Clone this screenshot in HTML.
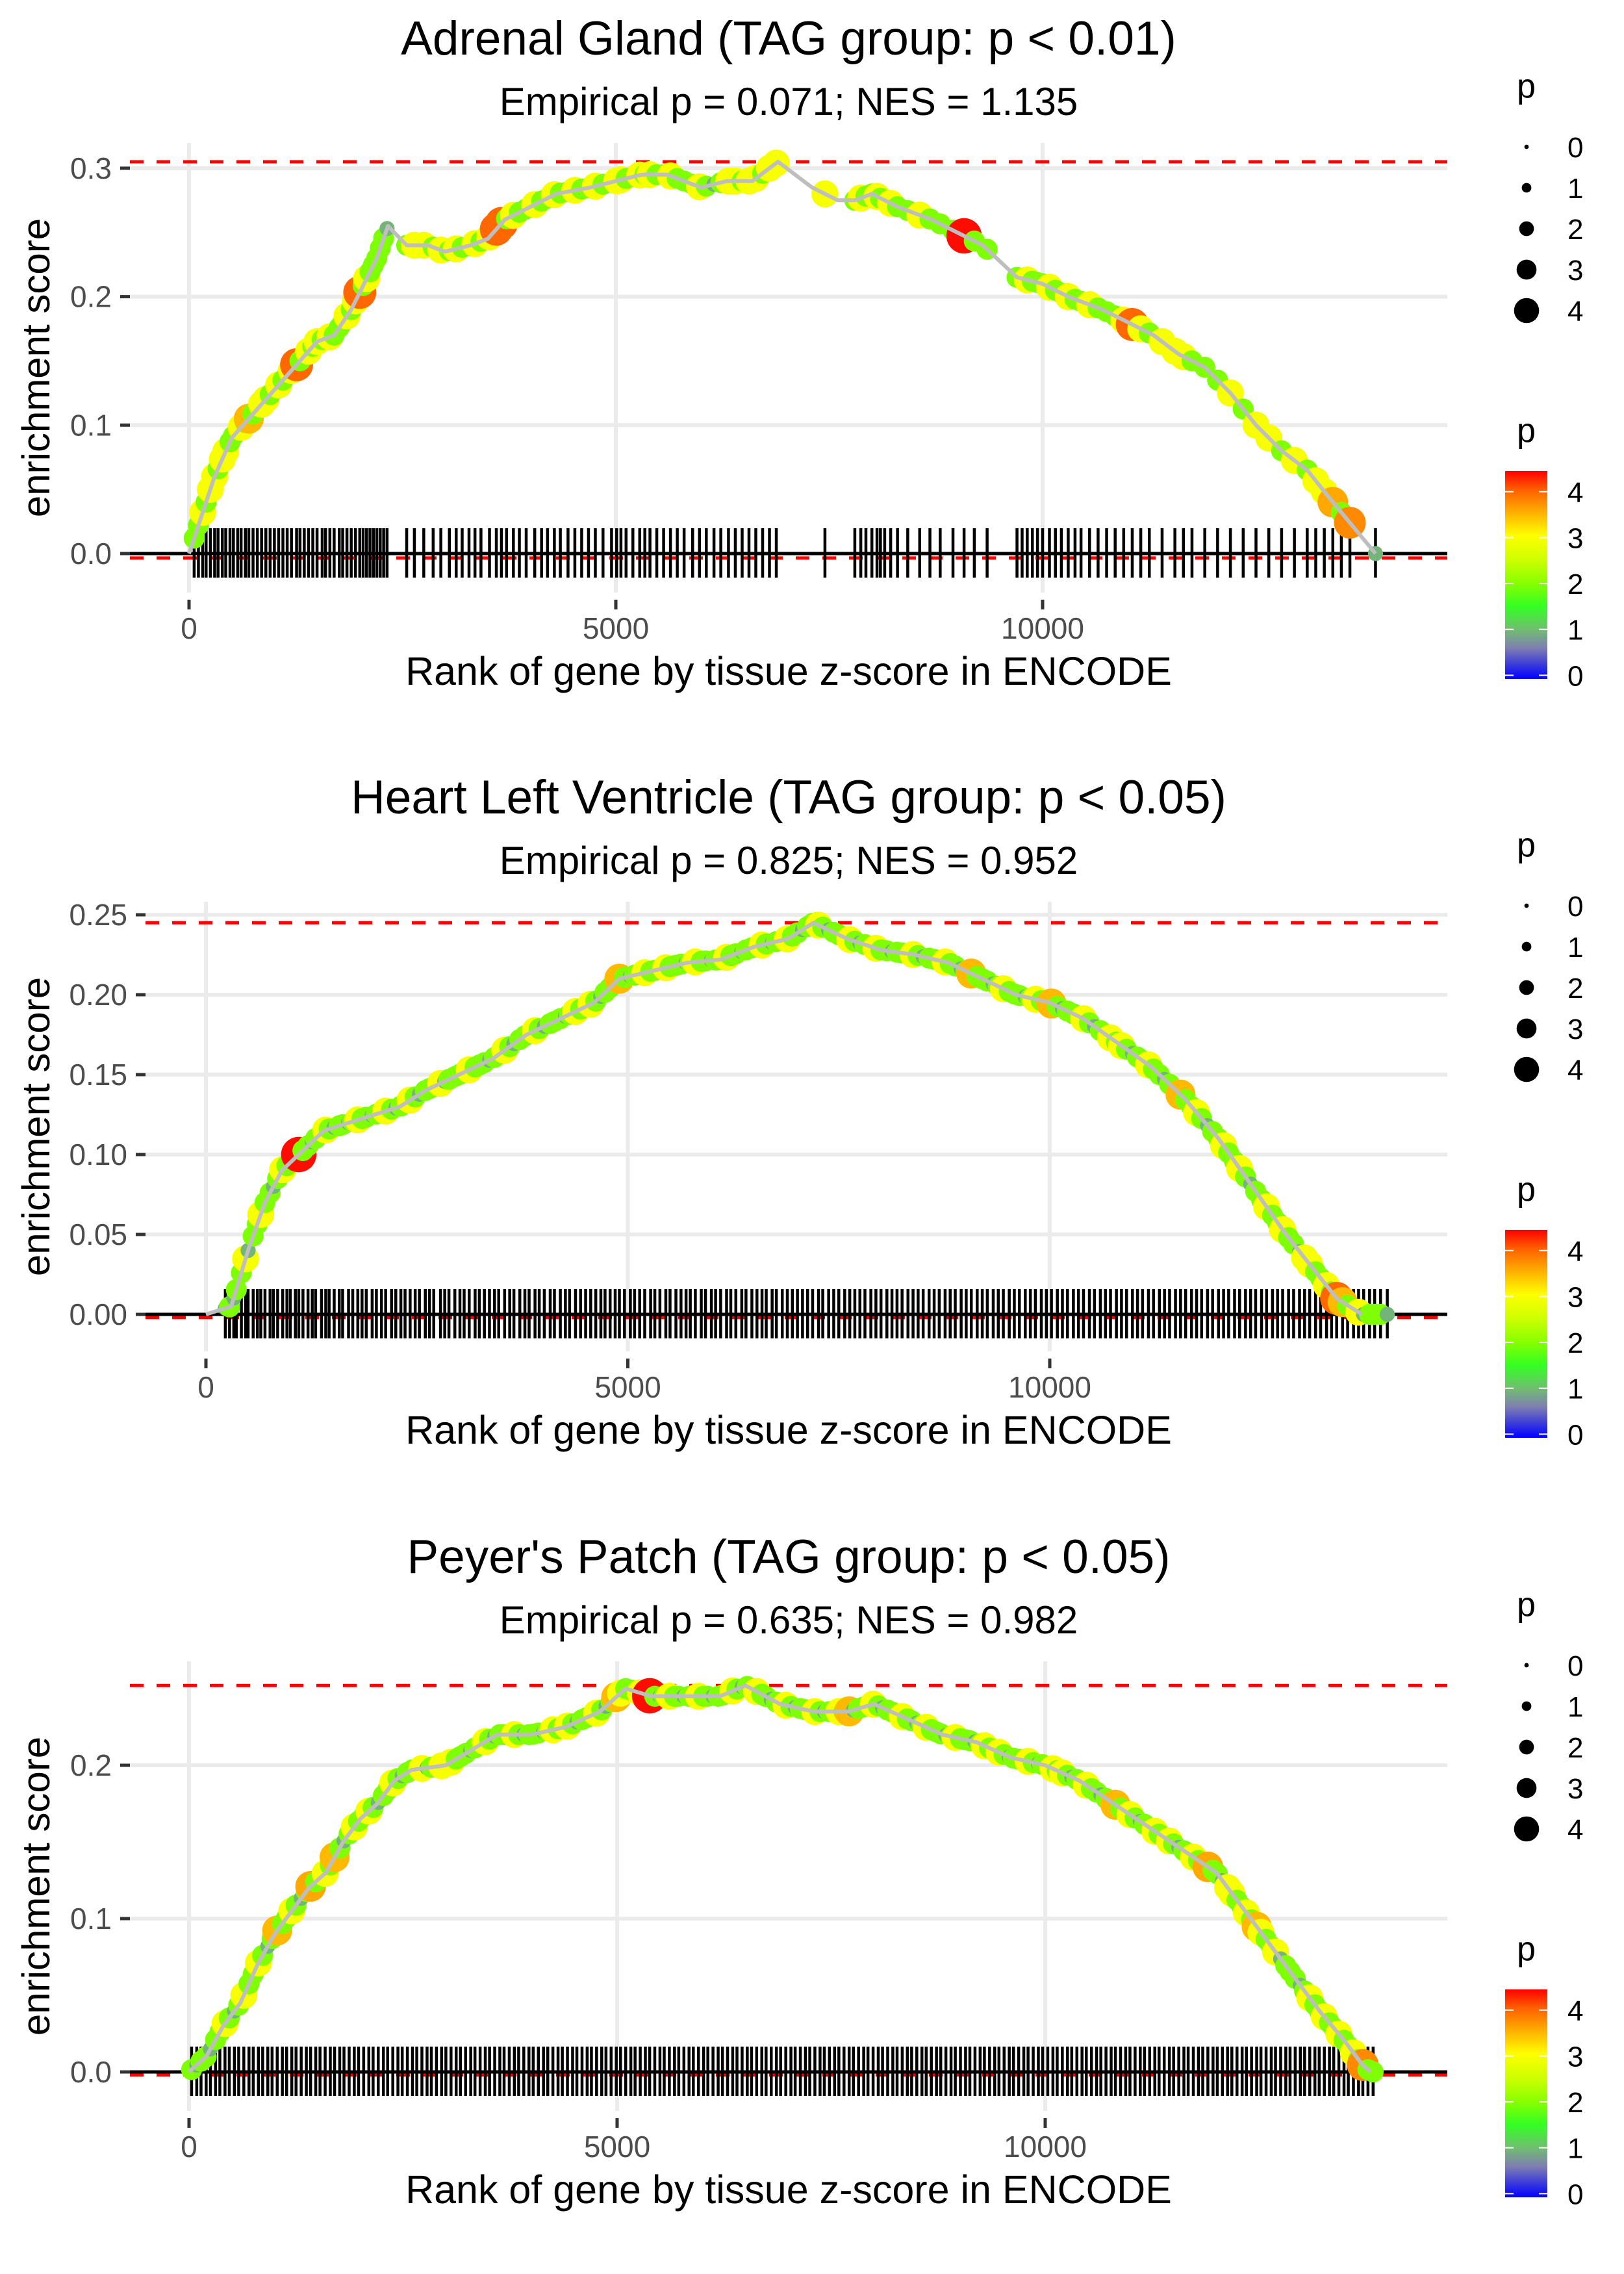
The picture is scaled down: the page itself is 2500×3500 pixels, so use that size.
<!DOCTYPE html>
<html><head><meta charset="utf-8">
<style>
html,body{margin:0;padding:0;background:#fff;}
svg{display:block;font-family:"Liberation Sans",Arial,sans-serif;}
</style></head>
<body>
<svg id="chart" width="2500" height="3500" viewBox="0 0 2500 3500" xmlns="http://www.w3.org/2000/svg">
<defs>
<linearGradient id="pgrad" x1="0" y1="1" x2="0" y2="0">
<stop offset="0" stop-color="#0000ff"/>
<stop offset="0.15" stop-color="#7f7fb0"/>
<stop offset="0.24" stop-color="#6fbf6f"/>
<stop offset="0.35" stop-color="#33ff22"/>
<stop offset="0.46" stop-color="#88ff00"/>
<stop offset="0.57" stop-color="#ccff00"/>
<stop offset="0.69" stop-color="#ffff00"/>
<stop offset="0.80" stop-color="#ffb000"/>
<stop offset="0.91" stop-color="#ff6000"/>
<stop offset="1" stop-color="#ff0000"/>
</linearGradient>
</defs>
</svg>
<script>
// ---------- Panel 1: Adrenal Gland ----------
const p1CurveRank = [0,150,300,500,700,900,1100,1300,1500,1700,1900,2050,2200,2330,2550,2800,3000,3300,3500,3700,4000,4300,4700,5000,5300,5600,6000,6300,6600,6900,7300,7600,7800,8000,8300,8700,9000,9300,9700,10000,10300,10700,11000,11300,11600,11900,12200,12500,12800,13100,13400,13650,13900];
const p1CurveES = [0,0.03,0.06,0.09,0.105,0.12,0.135,0.15,0.165,0.17,0.19,0.21,0.23,0.255,0.24,0.24,0.235,0.24,0.245,0.26,0.27,0.28,0.285,0.29,0.295,0.295,0.285,0.29,0.29,0.305,0.285,0.275,0.275,0.28,0.27,0.26,0.25,0.24,0.215,0.21,0.2,0.19,0.18,0.17,0.155,0.145,0.125,0.1,0.08,0.065,0.04,0.02,0.0];
const p1Hits = [60,110,160,200,250,300,340,390,430,480,520,570,610,660,700,750,800,850,900,950,1000,1050,1100,1150,1200,1260,1300,1350,1400,1450,1500,1560,1600,1650,1700,1760,1800,1850,1900,1950,2000,2040,2080,2120,2160,2200,2240,2280,2320,
2550,2640,2750,2860,2950,3050,3130,3200,3280,3350,3420,3520,3600,3660,3720,3800,3870,3950,4050,4130,4200,4280,4350,4440,4520,4600,4680,4760,4850,
4950,5010,5060,5120,5200,5280,5340,5400,5480,5560,5640,5720,5800,5900,5980,6060,6150,6230,6320,6400,6480,6560,6640,6720,6800,6880,
7450,7800,7870,7930,8000,8060,8100,8150,8220,8300,8420,8560,8680,8800,8950,9080,9200,9350,
9700,9760,9820,9880,9940,10000,10080,10150,10220,10300,10380,10450,10550,10650,10750,10850,10950,11050,11150,11250,11400,11550,11650,11750,11900,12050,12200,12350,12500,12650,12800,12950,13100,13200,13300,13400,13500,13600,13900];
const p1P = [2,2,3,2,3,3,2,3,3,2, 2,2,3,2,3.5,2,2,3,3,2, 2,3,2,2,3,4,2,2,3,2, 3,2,2,3,2,2,2,3,2,3, 4,2,3,2,2,2,2,2,1,
2,3,3,2,3,2,3,2,2,3, 2,3,4,4,2,3,2,2,3,2, 2,3,2,2,3,2,2,3,2,
2,3,3,2,2,3,2,3,2,2, 3,2,2,2,3,2,1,2,3,3, 2,3,3,2,3,3,
3,2,3,2,2,3,2,2,3,2, 2,3,2,2,2,4.4,2,2,
2,2,3,2,2,2,3,2,2,3, 2,2,3,2,2,2,3,4,3,2, 3,3,3,2,2,2,3,2,3,3, 2,3,2,3,3,3.6,2,3.8,1];
const p1Ticks = [0.0,0.1,0.2,0.3];
const p1TickLabels = ["0.0","0.1","0.2","0.3"];
const p1Max = 0.305, p1Min = -0.0035;

// ---------- Panel 2: Heart Left Ventricle ----------
const p2CurveRank = [0,300,500,700,900,1100,1400,1700,2000,2300,2600,3000,3400,3800,4200,4600,4900,5300,5700,6100,6500,6900,7200,7600,8000,8400,8800,9200,9600,10000,10400,10800,11200,11600,12000,12400,12800,13100,13400,13700];
const p2CurveES = [0,0.005,0.04,0.07,0.09,0.1,0.115,0.12,0.125,0.13,0.14,0.15,0.16,0.175,0.185,0.195,0.21,0.215,0.22,0.222,0.23,0.235,0.245,0.235,0.228,0.225,0.22,0.21,0.2,0.195,0.185,0.17,0.155,0.135,0.11,0.08,0.05,0.03,0.01,0.0];
const p2Hits = [230,280,330,360,420,470,500,560,610,650,700,760,800,850,910,960,1000,1060,1100,1150,
1210,1260,1300,1370,1420,1460,1520,1580,1620,1690,1740,1800,1850,1900,1970,2020,2080,2130,2200,2250,
2310,2360,2420,2480,2530,2600,2650,2700,2780,2830,2880,2950,3010,3060,3120,3190,3240,3300,3360,3420,
3470,3540,3600,3650,3720,3780,3830,3900,3950,4010,4080,4130,4200,4260,4310,4380,4440,4500,4560,4620,
4680,4730,4790,4850,4900,4960,5030,5080,5140,5200,5270,5320,5380,5450,5500,5570,5630,5690,5740,5800,
5870,5920,5990,6040,6100,6170,6220,6280,6350,6400,6470,6530,6590,6640,6710,6760,6830,6890,6950,7010,
7070,7130,7190,7260,7310,7380,7440,7500,7570,7630,7690,7750,7810,7880,7940,8000,8070,8130,8190,8250,
8320,8380,8440,8500,8570,8630,8690,8760,8820,8880,8950,9010,9070,9140,9200,9260,9330,9390,9450,9520,
9580,9640,9710,9770,9830,9900,9960,10020,10090,10150,10210,10280,10340,10400,10470,10530,10600,10660,10720,10790,
10850,10910,10980,11040,11100,11170,11230,11300,11360,11420,11490,11550,11610,11680,11740,11800,11870,11930,12000,12060,
12120,12190,12250,12320,12380,12440,12510,12570,12640,12700,12760,12830,12890,12960,13020,13080,13150,13210,13280,13340,
13400,13470,13530,13600,13660,13720,13790,13850,13920,14000];
const p2P = [1,2,1,2,2,3,1,2,2,3,2,2,1,2,3,2,2,1,4.4,2,
2,1,2,2,3,2,1,2,2,1,2,3,2,2,1,2,2,3,2,1,
2,2,3,2,1,2,2,2,3,1,2,2,2,1,3,2,2,2,1,2,
2,3,2,1,2,2,2,3,2,1,2,2,2,1,2,3,2,2,3,2,
1,2,2,2,3.5,2,1,2,2,3,2,2,1,3,2,2,2,1,2,3,
2,2,1,2,2,3,2,2,1,2,2,2,3,2,1,2,2,3,2,2,
1,2,2,3,2,1,2,2,2,3,2,1,2,2,3,2,2,1,2,2,
2,3,2,1,2,2,2,3,2,2,1,2,3.5,2,2,2,1,2,3,2,
2,2,1,2,3,2,2,3.5,2,1,2,2,2,3,2,1,2,2,3,2,
3,2,1,2,2,3,2,2,1,2,2,3.5,2,2,3,2,1,2,2,3,
2,2,3,2,1,2,2,3,2,2,3,2,2,1,3,3,2,2,3,2,
4,3.5,2,2,3,1,2,2,2,1];
const p2Ticks = [0,0.05,0.10,0.15,0.20,0.25];
const p2TickLabels = ["0.00","0.05","0.10","0.15","0.20","0.25"];
const p2Max = 0.245, p2Min = -0.002;

// ---------- Panel 3: Peyer's Patch ----------
const p3CurveRank = [0,200,400,600,800,1000,1200,1400,1600,1800,2000,2200,2400,2600,3000,3300,3600,4000,4400,4800,5100,5400,5800,6200,6500,6900,7300,7700,8000,8400,8800,9200,9600,10000,10400,10800,11200,11600,12000,12400,12800,13200,13500,13700,13800];
const p3CurveES = [0,0.01,0.03,0.045,0.07,0.09,0.105,0.12,0.13,0.15,0.165,0.175,0.19,0.197,0.2,0.21,0.22,0.22,0.225,0.235,0.25,0.245,0.245,0.245,0.252,0.24,0.235,0.235,0.24,0.23,0.22,0.215,0.205,0.2,0.19,0.175,0.16,0.145,0.13,0.1,0.07,0.04,0.02,0.005,0.0];
const p3Hits = [30,90,140,200,250,310,360,420,470,530,580,640,700,750,810,860,920,970,1030,1090,
1140,1200,1250,1310,1370,1420,1480,1530,1590,1650,1700,1760,1810,1870,1930,1980,2040,2100,2150,2210,
2270,2320,2380,2440,2490,2550,2610,2660,2720,2780,2830,2890,2950,3000,3060,3120,3170,3230,3290,3340,
3400,3460,3510,3570,3630,3680,3740,3800,3850,3910,3970,4020,4080,4140,4190,4250,4310,4360,4420,4480,
4530,4590,4650,4700,4760,4820,4870,4930,4990,5040,5100,5160,5210,5270,5330,5380,5440,5500,5550,5610,
5670,5720,5780,5840,5890,5950,6010,6060,6120,6180,6230,6290,6350,6400,6460,6520,6570,6630,6690,6740,
6800,6860,6910,6970,7030,7080,7140,7200,7250,7310,7370,7420,7480,7540,7590,7650,7710,7760,7820,7880,
7930,7990,8050,8100,8160,8220,8270,8330,8390,8440,8500,8560,8610,8670,8730,8780,8840,8900,8950,9010,
9070,9120,9180,9240,9290,9350,9410,9460,9520,9580,9630,9690,9750,9800,9860,9920,9970,10030,10090,10140,
10200,10260,10310,10370,10430,10480,10540,10600,10650,10710,10770,10820,10880,10940,10990,11050,11110,11160,11220,11280,
11330,11390,11450,11500,11560,11620,11670,11730,11790,11840,11900,11960,12010,12070,12130,12180,12240,12300,12350,12410,
12470,12520,12580,12640,12690,12750,12810,12860,12920,12980,13030,13090,13150,13200,13260,13320,13370,13430,13490,13540,
13600,13660,13710,13770,13830];
const p3P = [2,1,2,2,1,2,2,3,2,1,2,3,2,2,3,2,1,2,3.5,2,
2,3,2,1,2,3.6,2,2,3,2,3.5,2,1,2,3,2,2,3,2,1,
2,2,3,2,1,2,2,2,3,1,2,2,3,1,3,2,2,2,1,2,
2,3,2,1,2,2,2,3,2,1,2,2,2,1,2,3,2,2,3,2,
1,2,2,2,3,2,1,2,3.5,3,2,2,1,3,2,4.4,2,1,2,3,
2,2,1,2,2,3,2,2,1,2,2,2,3,2,1,2,2,3,2,2,
1,2,2,3,2,1,2,2,2,3,2,1,2,2,3,2,3.5,1,2,2,
2,3,2,1,2,2,2,3,2,2,1,2,3,2,2,2,1,2,3,2,
2,2,1,2,3,2,2,3,2,1,2,2,2,3,2,1,2,2,3,2,
3,2,1,2,2,3,2,2,1,2,2,3.5,2,2,3,2,1,2,2,3,
2,2,3,2,1,2,2,3,2,2,3.6,2,2,1,3,3,2,2,3,2,
3.5,3,2,2,3,1,2,2,2,1,2,3,2,2,3,2,2,3,2,2,
3,2,3.8,2,2];
const p3Ticks = [0.0,0.1,0.2];
const p3TickLabels = ["0.0","0.1","0.2"];
const p3Max = 0.252, p3Min = -0.002;

const xTicks = [0,5000,10000];
const xTickLabels = ["0","5000","10000"];
const legendSizes = [0,1,2,3,4];
const legendColors = [0,1,2,3,4];

const panels = [
 {name:"adrenal-gland", title:"Adrenal Gland (TAG group: p < 0.01)", sub:"Empirical p = 0.071; NES = 1.135",
  cr:p1CurveRank, ce:p1CurveES, hits:p1Hits, p:p1P, ticks:p1Ticks, tl:p1TickLabels, max:p1Max, min:p1Min,
  off:0, left:200, x0:291, xk:0.1314, y0:852, yk:1977},
 {name:"heart-left-ventricle", title:"Heart Left Ventricle (TAG group: p < 0.05)", sub:"Empirical p = 0.825; NES = 0.952",
  cr:p2CurveRank, ce:p2CurveES, hits:p2Hits, p:p2P, ticks:p2Ticks, tl:p2TickLabels, max:p2Max, min:p2Min,
  off:1168, left:224, x0:317, xk:0.1299, y0:2023, yk:2460},
 {name:"peyers-patch", title:"Peyer's Patch (TAG group: p < 0.05)", sub:"Empirical p = 0.635; NES = 0.982",
  cr:p3CurveRank, ce:p3CurveES, hits:p3Hits, p:p3P, ticks:p3Ticks, tl:p3TickLabels, max:p3Max, min:p3Min,
  off:2337, left:200, x0:291, xk:0.1318, y0:3189, yk:2360}
];

const NS = "http://www.w3.org/2000/svg";
const svg = document.getElementById('chart');
function mk(tag, attrs, parent, text){
  const e = document.createElementNS(NS, tag);
  for (const k in attrs) e.setAttribute(k, attrs[k]);
  if (text !== undefined) e.textContent = text;
  (parent||svg).appendChild(e);
  return e;
}
const stops = [[0,[0,0,255]],[0.67,[127,127,176]],[1.07,[111,191,111]],[1.56,[51,255,34]],[2.05,[136,255,0]],[2.54,[204,255,0]],[3.07,[255,255,0]],[3.56,[255,176,0]],[4.05,[255,96,0]],[4.45,[255,0,0]]];
function pColor(v){
  if (v<=stops[0][0]) return 'rgb(0,0,255)';
  for (let i=1;i<stops.length;i++){
    if (v<=stops[i][0]){
      const a=stops[i-1], b=stops[i], t=(v-a[0])/(b[0]-a[0]);
      const c=a[1].map((q,j)=>Math.round(q+(b[1][j]-q)*t));
      return 'rgb('+c.join(',')+')';
    }
  }
  return 'rgb(255,0,0)';
}
function pRadius(v){ return 3.5 + 4.1*v; }
function ptRadius(v){ return 7 + 4.6*v; }
function interp(xs, ys, x){
  if (x<=xs[0]) return ys[0];
  for (let i=1;i<xs.length;i++) if (x<=xs[i]){ const t=(x-xs[i-1])/(xs[i]-xs[i-1]); return ys[i-1]+(ys[i]-ys[i-1])*t; }
  return ys[ys.length-1];
}

panels.forEach(P=>{
  const g = mk('g',{});
  
  
  const top=220+P.off, bottom=912+P.off, L=P.left, R=2228;
  const X = r => P.x0 + P.xk*r;
  const Y = v => P.y0 - P.yk*v;
  const t = mk('text',{x:1214,y:84+P.off,'text-anchor':'middle','font-size':73,fill:'#000'},g,P.title);
  
  
  const s = mk('text',{x:1214,y:177+P.off,'text-anchor':'middle','font-size':60,fill:'#000'},g,P.sub);
  
  
  P.ticks.forEach((v,i)=>{
    const gl = mk('line',{x1:L,x2:R,y1:Y(v),y2:Y(v),stroke:'#ebebeb','stroke-width':6},g);
    
    
    mk('line',{x1:L-15,x2:L,y1:Y(v),y2:Y(v),stroke:'#333','stroke-width':5},g);
    const tl = mk('text',{x:L-28,y:Y(v)+16,'text-anchor':'end','font-size':46,fill:'#4d4d4d'},g,P.tl[i]);
    
    
  });
  xTicks.forEach((v,i)=>{
    const gl = mk('line',{x1:X(v),x2:X(v),y1:top,y2:bottom,stroke:'#ebebeb','stroke-width':6},g);
    
    
    mk('line',{x1:X(v),x2:X(v),y1:bottom+11,y2:bottom+26,stroke:'#333','stroke-width':5},g);
    const tl = mk('text',{x:X(v),y:983+P.off,'text-anchor':'middle','font-size':46,fill:'#4d4d4d'},g,xTickLabels[i]);
    
    
  });
  const xl = mk('text',{x:1214,y:1054+P.off,'text-anchor':'middle','font-size':61,fill:'#000'},g,'Rank of gene by tissue z-score in ENCODE');
  
  
  const yy = (top+bottom)/2;
  const yl = mk('text',{x:0,y:0,'text-anchor':'middle','font-size':60,fill:'#000',transform:'translate(76,'+yy+') rotate(-90)'},g,'enrichment score');
  
  
  [P.max,P.min].forEach(v=>{
    const d = mk('line',{x1:L,x2:R,y1:Y(v),y2:Y(v),stroke:'#ff0000','stroke-width':5,'stroke-dasharray':'21 20'},g);
    
    
  });
  P.hits.forEach(r=>{
    const rl = mk('line',{x1:X(r),x2:X(r),y1:Y(0)-39,y2:Y(0)+37,stroke:'#000','stroke-width':4.5},g);
    
    
  });
  const z = mk('line',{x1:L,x2:R,y1:Y(0),y2:Y(0),stroke:'#000','stroke-width':5},g);
  
  
  P.hits.forEach((r,i)=>{
    const pv = P.p[i]===undefined ? 2 : P.p[i];
    const c = mk('circle',{cx:X(r),cy:Y(interp(P.cr,P.ce,r)),r:ptRadius(pv),fill:pColor(pv)},g);
    
    
  });
  const pts = P.cr.map((r,i)=>X(r).toFixed(1)+','+Y(P.ce[i]).toFixed(1)).join(' ');
  const pl = mk('polyline',{points:pts,fill:'none',stroke:'#bebebe','stroke-width':6,'stroke-linejoin':'round'},g);
  
  

  const lg = mk('g',{},g);
  
  
  mk('text',{x:2335,y:150+P.off,'font-size':52,fill:'#000'},lg,'p');
  legendSizes.forEach((v,i)=>{
    const cy = 226+P.off+i*63;
    mk('circle',{cx:2350,cy:cy,r:pRadius(v)*0.97,fill:'#000'},lg);
    const lt = mk('text',{x:2413,y:cy+16,'font-size':44,fill:'#000'},lg,String(v));
    
    
  });
  const cg = mk('g',{},g);
  
  
  mk('text',{x:2335,y:680+P.off,'font-size':52,fill:'#000'},cg,'p');
  const barTop=725+P.off, barBot=1045+P.off;
  const cb = mk('rect',{x:2317,y:barTop,width:65,height:barBot-barTop,fill:'url(#pgrad)'},cg);
  
  
  const vy = v => barBot - (v+0.08)/(4.45+0.08)*(barBot-barTop);
  legendColors.forEach(v=>{
    mk('line',{x1:2317,x2:2330,y1:vy(v),y2:vy(v),stroke:'#fff','stroke-width':2},cg);
    mk('line',{x1:2369,x2:2382,y1:vy(v),y2:vy(v),stroke:'#fff','stroke-width':2},cg);
    const lt = mk('text',{x:2413,y:vy(v)+16,'font-size':44,fill:'#000'},cg,String(v));
    
    
  });
});
</script>
</body></html>
